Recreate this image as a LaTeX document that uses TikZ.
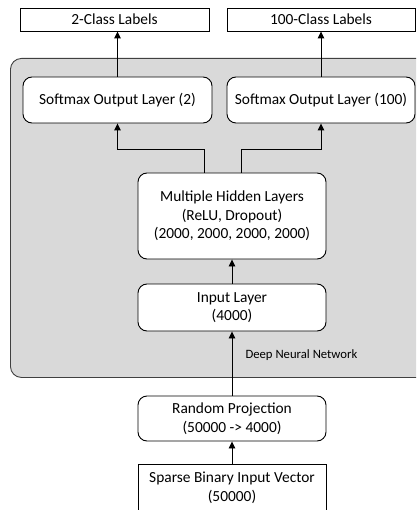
\documentclass[tikz,border=0pt]{standalone}
\usepackage{fontspec}
\setmainfont{Carlito}
\usetikzlibrary{arrows.meta}
\definecolor{bggray}{RGB}{217,217,217}
\definecolor{edgegray}{RGB}{64,64,64}
\tikzset{
  box/.style={draw=black, line width=0.9pt, fill=white, align=center, inner sep=0pt,
    font=\fontsize{15.4}{18.7}\selectfont},
  rbox/.style={box, rounded corners=9pt},
  arr/.style={draw=black, line width=0.9pt, -{Triangle[width=6.5pt,length=7pt]}},
}
\begin{document}
\begin{tikzpicture}[x=1pt,y=-1pt]
\useasboundingbox (0,0) rectangle (416,510);
\clip (0,0) rectangle (416,510);
% background
\node[draw=edgegray, fill=bggray, line width=0.9pt, rounded corners=11pt, minimum width=430pt, minimum height=319pt, anchor=north west, inner sep=0pt] (dnn) at (10,58) {};
\node[anchor=west, font=\fontsize{12.7}{15}\selectfont] (dnnlab) at (242,355) {Deep Neural Network};
% top labels
\node[box, minimum width=189pt, minimum height=23pt] (lab2) at (114.5,19.5) {2-Class Labels};
\node[box, minimum width=188pt, minimum height=23pt] (lab100) at (321,19.5) {100-Class Labels};
% softmax
\node[rbox, minimum width=189pt, minimum height=46pt] (sm2) at (117.5,100) {Softmax Output Layer (2)};
\node[rbox, minimum width=188pt, minimum height=46pt] (sm100) at (321,100) {Softmax Output Layer (100)};
% hidden
\node[rbox, minimum width=188pt, minimum height=86pt] (hid) at (232,216) {Multiple Hidden Layers\\(ReLU, Dropout)\\(2000, 2000, 2000, 2000)};
\node[rbox, minimum width=188pt, minimum height=47pt] (inp) at (232,307.5) {Input Layer\\(4000)};
\node[rbox, minimum width=188pt, minimum height=45pt] (rp) at (232,418.5) {Random Projection\\(50000 -> 4000)};
\node[box, minimum width=188pt, minimum height=68pt, anchor=north, text depth=0pt] (sp) at (232,464) {};
\node[font=\fontsize{15.4}{18.7}\selectfont, align=center] (sptext) at (232,488) {Sparse Binary Input Vector\\(50000)};
% connectors
\coordinate (jy) at (0,149);
\draw[arr] (sm2.north) -- (sm2.north |- lab2.south);
\draw[arr] (sm100.north) -- (sm100.north |- lab100.south);
\draw[arr] ([xshift=-28pt]hid.north) -- ([xshift=-28pt]hid.north |- jy) -| (sm2.south);
\draw[arr] ([xshift=9pt]hid.north) -- ([xshift=9pt]hid.north |- jy) -| (sm100.south);
\draw[arr] (inp.north) -- (hid.south);
\draw[arr] (rp.north) -- (inp.south);
\draw[arr] (sp.north) -- (rp.south);
\end{tikzpicture}
\end{document}
